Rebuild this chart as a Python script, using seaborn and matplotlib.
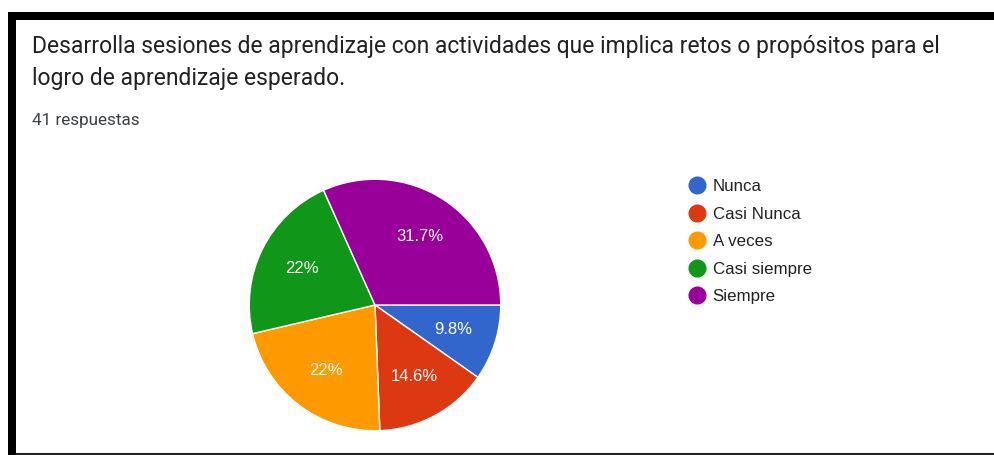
import seaborn as sns
import matplotlib.pyplot as plt
from matplotlib.lines import Line2D
from matplotlib.patches import Rectangle

# datos (41 respuestas)
categorias = ["Nunca", "Casi Nunca", "A veces", "Casi siempre", "Siempre"]
respuestas = [4, 6, 9, 9, 13]
etiquetas = ["9.8%", "14.6%", "22%", "22%", "31.7%"]
colores = ["#3366cc", "#dc3912", "#ff9900", "#109618", "#990099"]

titulo = ["Desarrolla sesiones de aprendizaje con actividades que implica retos o propósitos para el",
          "logro de aprendizaje esperado."]
subtitulo = "41 respuestas"

sns.set_theme(style="white")
plt.rcParams['font.family'] = ['Liberation Sans', 'DejaVu Sans']

W, H = 995, 455
fig = plt.figure(figsize=(W / 100, H / 100), dpi=100)
fig.patch.set_facecolor("white")

# marco negro de la captura
fig.add_artist(Rectangle((8 / W, 1 - 20 / H), 1, 8 / H, transform=fig.transFigure,
                         facecolor="black", edgecolor="none"))
fig.add_artist(Rectangle((8 / W, 0), 8 / W, 1 - 12 / H, transform=fig.transFigure,
                         facecolor="black", edgecolor="none"))
fig.add_artist(Line2D([16 / W, 1], [1.5 / H, 1.5 / H], transform=fig.transFigure,
                      color="#222222", lw=1.5))

# títulos
for linea, y in zip(titulo, [46, 78]):
    fig.text(32 / W, 1 - y / H, linea, fontsize=16.5, color="#202124", family="Roboto",
             va="center", ha="left")
fig.text(32 / W, 1 - 121 / H, subtitulo, fontsize=12.3, color="#3c4043", family="Roboto",
         va="center", ha="left")

# pastel
cx, cy, r = 375, 305, 127
ax = fig.add_axes([(cx - r) / W, (H - cy - r) / H, 2 * r / W, 2 * r / H])
palette = sns.color_palette(colores)
wedges, textos = ax.pie(
    respuestas,
    colors=palette,
    startangle=0,
    counterclock=False,
    radius=1,
    labels=etiquetas,
    labeldistance=0.65,
    wedgeprops=dict(edgecolor="white", linewidth=1.0),
    textprops=dict(color="white", fontsize=12, ha="center", va="center"),
)
ax.set_xlim(-1.01, 1.01)
ax.set_ylim(-1.01, 1.01)
ax.set_aspect("equal")
ax.axis("off")

# leyenda
handles = [Line2D([0], [0], marker="o", linestyle="none", markersize=12,
                  markerfacecolor=c, markeredgecolor=c) for c in palette]
fig.legend(handles, categorias, loc="upper left",
           bbox_to_anchor=(689 / W, 1 - 179 / H), frameon=False,
           fontsize=12.2, labelcolor="#222222", handlelength=1.0,
           handletextpad=0.4, labelspacing=0.74, borderpad=0, borderaxespad=0)

fig.savefig("out.png", dpi=100, facecolor="white")
